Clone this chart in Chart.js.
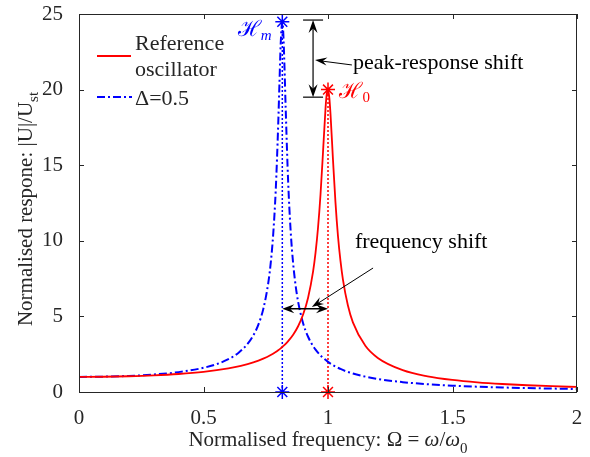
<!DOCTYPE html>
<html>
<head>
<meta charset="utf-8">
<script src="https://cdn.jsdelivr.net/npm/chart.js@4.4.1/dist/chart.umd.min.js"></script>
<style>
  html, body { margin: 0; padding: 0; background: #fff; }
  #wrap { width: 590px; height: 457px; }
</style>
</head>
<body>
<div id="wrap"><canvas id="resonance"></canvas></div>
<script>
// reference oscillator
const omegaRef = [0, 0.1, 0.2, 0.3, 0.4, 0.5, 0.6, 0.65, 0.7, 0.74, 0.77, 0.79, 0.8, 0.81, 0.8165, 0.82, 0.83, 0.84, 0.86, 0.88,
  0.9, 0.92, 0.94, 0.95, 0.96, 0.97, 0.98, 0.99, 0.995, 1, 1.005, 1.01, 1.02, 1.03, 1.04, 1.05, 1.06, 1.08, 1.1, 1.15,
  1.2, 1.3, 1.4, 1.5, 1.6, 1.7, 1.8, 1.9, 2];
const responseRef = [1, 1.010, 1.042, 1.099, 1.190, 1.333, 1.561, 1.729, 1.956, 2.203, 2.445, 2.646, 2.761, 2.888, 2.978, 3.029, 3.186, 3.363, 3.789, 4.350,
  5.121, 6.237, 7.966, 9.221, 10.88, 13.08, 15.87, 18.74, 19.71, 20.0, 19.52, 18.40, 15.37, 12.54, 10.33, 8.683, 7.436, 5.716, 4.607, 3.053,
  2.252, 1.443, 1.039, 0.799, 0.640, 0.529, 0.446, 0.383, 0.333];

// modified oscillator (Δ = 0.5), blue dash-dot curve
const omegaMod = [0, 0.1, 0.2, 0.3, 0.4, 0.5, 0.55, 0.6, 0.64, 0.68, 0.7, 0.72, 0.74, 0.76, 0.77, 0.78, 0.79, 0.8, 0.805, 0.81,
  0.8165, 0.82, 0.825, 0.83, 0.84, 0.85, 0.86, 0.87, 0.88, 0.9, 0.92, 0.95, 1, 1.05, 1.1, 1.2, 1.3, 1.4, 1.5, 1.6,
  1.7, 1.8, 1.9, 2];
const responseMod = [1, 1.015, 1.064, 1.156, 1.315, 1.599, 1.828, 2.169, 2.585, 3.244, 3.741, 4.439, 5.482, 7.199, 8.536, 10.45, 13.32, 17.68, 20.40, 22.99,
  24.49, 23.87, 21.62, 18.78, 13.90, 10.65, 8.507, 7.034, 5.971, 4.553, 3.656, 2.802, 1.990, 1.525, 1.224, 0.861, 0.651, 0.515, 0.421, 0.352,
  0.300, 0.259, 0.227, 0.200];

const peakRef = [1, 20];
const peakMod = [0.8165, 24.49];

const xTicks = [0, 0.5, 1, 1.5, 2];
const yTicks = [0, 5, 10, 15, 20, 25];

const RED = '#ff0000';
const BLUE = '#0000ff';
const INK = '#262626';
const SERIF = "'Liberation Serif', 'DejaVu Serif', serif";
const DASHDOT = [8, 3, 2, 3];

function toPoints(xs, ys) {
  return xs.map((x, i) => ({ x: x, y: ys[i] }));
}

function arrowHead(ctx, tx, ty, ang, len, half) {
  const bx = -Math.cos(ang), by = -Math.sin(ang);
  const px = -by, py = bx;
  ctx.beginPath();
  ctx.moveTo(tx, ty);
  ctx.lineTo(tx + len * bx + half * px, ty + len * by + half * py);
  ctx.lineTo(tx + 0.65 * len * bx, ty + 0.65 * len * by);
  ctx.lineTo(tx + len * bx - half * px, ty + len * by - half * py);
  ctx.closePath();
  ctx.fill();
}

function line(ctx, x1, y1, x2, y2) {
  ctx.beginPath();
  ctx.moveTo(x1, y1);
  ctx.lineTo(x2, y2);
  ctx.stroke();
}

// draws text pieces one after the other; sub pieces are smaller and lower
function richText(ctx, parts, x, y, align) {
  const widths = parts.map(p => {
    ctx.font = p.font;
    return ctx.measureText(p.text).width;
  });
  const total = widths.reduce((a, b) => a + b, 0);
  let cx = align === 'center' ? x - total / 2 : x;
  parts.forEach((p, i) => {
    ctx.font = p.font;
    ctx.fillText(p.text, cx, y + (p.dy || 0));
    cx += widths[i];
  });
}

const overlay = {
  id: 'overlay',
  afterDraw(chart) {
    const { ctx, chartArea: a, scales: { x, y } } = chart;
    ctx.save();

    // frame with inward ticks
    ctx.strokeStyle = INK;
    ctx.lineWidth = 1;
    ctx.setLineDash([]);
    ctx.strokeRect(a.left + 0.5, a.top + 0.5, a.right - a.left - 1, a.bottom - a.top);
    xTicks.forEach(v => {
      const px = Math.round(x.getPixelForValue(v)) + 0.5;
      line(ctx, px, a.bottom, px, a.bottom - 5);
      line(ctx, px, a.top, px, a.top + 5);
    });
    yTicks.forEach(v => {
      const py = Math.round(y.getPixelForValue(v)) + 0.5;
      line(ctx, a.left, py, a.left + 5, py);
      line(ctx, a.right, py, a.right - 5, py);
    });

    ctx.fillStyle = INK;
    ctx.textBaseline = 'alphabetic';
    ctx.textAlign = 'left';

    // axis titles
    richText(ctx, [
      { text: 'Normalised frequency: Ω = ', font: '21px ' + SERIF },
      { text: 'ω', font: 'italic 21px ' + SERIF },
      { text: '/', font: '21px ' + SERIF },
      { text: 'ω', font: 'italic 21px ' + SERIF },
      { text: '0', font: '15px ' + SERIF, dy: 7 }
    ], (a.left + a.right) / 2, 446, 'center');

    ctx.save();
    ctx.translate(32, (a.top + a.bottom) / 2 + 6);
    ctx.rotate(-Math.PI / 2);
    richText(ctx, [
      { text: 'Normalised respone: |U|/U', font: '21px ' + SERIF },
      { text: 'st', font: '15px ' + SERIF, dy: 6 }
    ], 0, 0, 'center');
    ctx.restore();

    // legend
    ctx.lineWidth = 1.8;
    ctx.strokeStyle = RED;
    line(ctx, a.left + 18, a.top + 42, a.left + 52, a.top + 42);
    ctx.strokeStyle = BLUE;
    ctx.lineWidth = 2;
    ctx.setLineDash(DASHDOT);
    line(ctx, a.left + 18, a.top + 83, a.left + 53, a.top + 83);
    ctx.setLineDash([]);
    ctx.fillStyle = INK;
    ctx.font = '22px ' + SERIF;
    ctx.fillText('Reference', a.left + 56, a.top + 36);
    ctx.fillText('oscillator', a.left + 56, a.top + 62);
    ctx.fillText('Δ=0.5', a.left + 56, a.top + 91);

    // peak labels
    ctx.fillStyle = BLUE;
    richText(ctx, [
      { text: 'ℋ', font: '22px ' + SERIF },
      { text: 'm', font: 'italic 15px ' + SERIF, dy: 4 }
    ], x.getPixelForValue(0.638), y.getPixelForValue(23.55), 'left');
    ctx.fillStyle = RED;
    richText(ctx, [
      { text: 'ℋ', font: '22px ' + SERIF },
      { text: '0', font: '15px ' + SERIF, dy: 4 }
    ], x.getPixelForValue(1.046), y.getPixelForValue(19.45), 'left');

    // peak-response shift: vertical double arrow with caps
    ctx.strokeStyle = '#000';
    ctx.fillStyle = '#000';
    ctx.lineWidth = 1.2;
    const ax = x.getPixelForValue(0.94);
    const yTop = y.getPixelForValue(24.6);
    const yBot = y.getPixelForValue(19.5);
    line(ctx, ax - 10, yTop, ax + 10, yTop);
    line(ctx, ax - 10, yBot, ax + 10, yBot);
    line(ctx, ax, yTop + 4, ax, yBot - 4);
    arrowHead(ctx, ax, yTop, -Math.PI / 2, 13, 4.5);
    arrowHead(ctx, ax, yBot, Math.PI / 2, 13, 4.5);
    ctx.lineWidth = 1;
    const p1x = x.getPixelForValue(1.096), p1y = y.getPixelForValue(21.63);
    const p2x = ax + 2, p2y = y.getPixelForValue(21.96);
    line(ctx, p1x, p1y, p2x + 6, p2y + 1);
    arrowHead(ctx, p2x, p2y, Math.atan2(p2y - p1y, p2x - p1x), 12, 4);
    ctx.font = '22px ' + SERIF;
    ctx.fillText('peak-response shift', x.getPixelForValue(1.1), y.getPixelForValue(21.35));

    // frequency shift: horizontal double arrow
    ctx.lineWidth = 1.5;
    const hy = y.getPixelForValue(5.5);
    const hl = x.getPixelForValue(peakMod[0]);
    const hr = x.getPixelForValue(peakRef[0]);
    line(ctx, hl + 4, hy, hr - 4, hy);
    arrowHead(ctx, hl, hy, Math.PI, 12, 4.5);
    arrowHead(ctx, hr, hy, 0, 12, 4.5);
    ctx.lineWidth = 1;
    const q1x = x.getPixelForValue(1.181), q1y = y.getPixelForValue(8.2);
    const q2x = x.getPixelForValue(0.935), q2y = y.getPixelForValue(5.62);
    line(ctx, q1x, q1y, q2x + 5, q2y - 3);
    arrowHead(ctx, q2x, q2y, Math.atan2(q2y - q1y, q2x - q1x), 12, 4);
    ctx.fillText('frequency shift', x.getPixelForValue(1.108), y.getPixelForValue(9.5));

    ctx.restore();
  }
};

new Chart(document.getElementById('resonance'), {
  type: 'scatter',
  data: {
    datasets: [
      {
        label: 'Reference oscillator',
        data: toPoints(omegaRef, responseRef),
        showLine: true,
        borderColor: RED,
        borderWidth: 1.8,
        pointRadius: 0,
        cubicInterpolationMode: 'monotone'
      },
      {
        label: 'Δ=0.5',
        data: toPoints(omegaMod, responseMod),
        showLine: true,
        borderColor: BLUE,
        borderWidth: 2,
        borderDash: DASHDOT,
        pointRadius: 0,
        cubicInterpolationMode: 'monotone'
      },
      {
        label: 'peak modified',
        data: [{ x: peakMod[0], y: 0 }, { x: peakMod[0], y: peakMod[1] }],
        showLine: true,
        borderColor: BLUE,
        borderWidth: 1.5,
        borderDash: [2, 2],
        pointStyle: 'star',
        pointRadius: 7,
        pointBorderColor: BLUE,
        pointBorderWidth: 1.5,
        clip: false
      },
      {
        label: 'peak reference',
        data: [{ x: peakRef[0], y: 0 }, { x: peakRef[0], y: peakRef[1] }],
        showLine: true,
        borderColor: RED,
        borderWidth: 1.5,
        borderDash: [2, 2],
        pointStyle: 'star',
        pointRadius: 7,
        pointBorderColor: RED,
        pointBorderWidth: 1.5,
        clip: false
      }
    ]
  },
  options: {
    responsive: true,
    maintainAspectRatio: false,
    animation: false,
    events: [],
    layout: { padding: { top: 14, right: 13, left: 0, bottom: 0 } },
    plugins: {
      legend: { display: false },
      tooltip: { enabled: false }
    },
    scales: {
      x: {
        type: 'linear',
        min: 0,
        max: 2,
        grid: { display: false },
        border: { display: false },
        afterBuildTicks: scale => { scale.ticks = xTicks.map(v => ({ value: v })); },
        afterFit: scale => {
          scale.height = 65;
          scale.paddingLeft = 0;
          scale.paddingRight = 0;
        },
        ticks: { color: INK, padding: 6, font: { family: SERIF, size: 21 }, callback: v => String(v) }
      },
      y: {
        type: 'linear',
        min: 0,
        max: 25,
        grid: { display: false },
        border: { display: false },
        afterBuildTicks: scale => { scale.ticks = yTicks.map(v => ({ value: v })); },
        afterFit: scale => {
          scale.width = 79;
          scale.paddingTop = 0;
          scale.paddingBottom = 0;
        },
        ticks: { color: INK, padding: 8, font: { family: SERIF, size: 21 }, callback: v => String(v) }
      }
    }
  },
  plugins: [overlay]
});
</script>
</body>
</html>
